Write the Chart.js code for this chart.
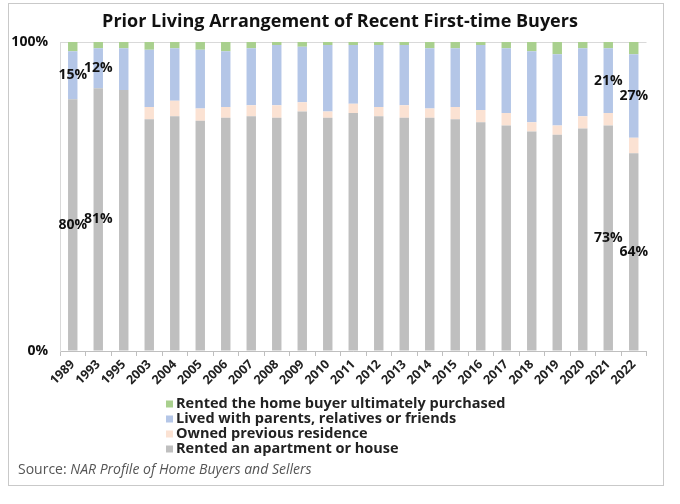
<!DOCTYPE html>
<html>
<head>
<meta charset="utf-8">
<script src="https://cdn.jsdelivr.net/npm/chart.js@4.4.1/dist/chart.umd.min.js"></script>
<style>
html,body{margin:0;padding:0;background:#fff;}
#wrap{width:680px;height:504px;position:relative;}
</style>
</head>
<body>
<div id="wrap"><canvas id="c" width="680" height="504"></canvas></div>
<script>
const years = ["1989","1993","1995","2003","2004","2005","2006","2007","2008","2009","2010","2011","2012","2013","2014","2015","2016","2017","2018","2019","2020","2021","2022"];
const rentedApartment = [81.5,85,84.5,75,76,74.5,75.5,76,75.5,77.5,75.5,77,76,75.5,75.5,75,74,73,71,70,72,73,64];
const ownedPrevious = [0,0,0,4,5,4,3.5,3.5,4,3,2,3,3,4,3,4,4,4,3,3,4,4,5];
const livedWithFamily = [15.5,13,13.5,18.5,17,19,18,18.5,19.5,18,21.5,19,20,19.5,19.5,19,21,21,23,23,22,21,27];
const rentedHomePurchased = [3,2,2,2.5,2,2.5,3,2,1,1.5,1,1,1,1,2,2,1,2,3,4,2,2,4];
const rentedApartmentLabels = ["80%","81%",null,null,null,null,null,null,null,null,null,null,null,null,null,null,null,null,null,null,null,"73%","64%"];
const livedWithFamilyLabels = ["15%","12%",null,null,null,null,null,null,null,null,null,null,null,null,null,null,null,null,null,null,null,"21%","27%"];
const yTicks = [0,100];

const FONT = "'Open Sans', 'DejaVu Sans', sans-serif";

const decorPlugin = {
  id: 'decor',
  beforeDraw(chart) {
    const ctx = chart.ctx;
    ctx.save();
    ctx.fillStyle = '#fff';
    ctx.fillRect(0,0,chart.width,chart.height);
    ctx.strokeStyle = '#c9c9c9';
    ctx.lineWidth = 1;
    ctx.strokeRect(8.5,3.5,655,482);
    ctx.restore();
  },
  afterDatasetsDraw(chart) {
    const ctx = chart.ctx;
    ctx.save();
    ctx.font = "bold 14px " + FONT;
    ctx.fillStyle = '#111';
    ctx.textAlign = 'center';
    ctx.textBaseline = 'middle';
    chart.data.datasets.forEach((ds, di) => {
      if (!ds.segLabels) return;
      const meta = chart.getDatasetMeta(di);
      ds.segLabels.forEach((t, i) => {
        if (!t) return;
        const el = meta.data[i];
        ctx.fillText(t, el.x, (el.y + el.base) / 2);
      });
    });
    ctx.restore();
  },
  afterDraw(chart) {
    const ctx = chart.ctx;
    ctx.save();
    ctx.font = "bold 18px " + FONT;
    ctx.fillStyle = '#111';
    ctx.textAlign = 'center';
    ctx.textBaseline = 'middle';
    ctx.fillText('Prior Living Arrangement of Recent First-time Buyers', 340, 22);
    const ds = chart.data.datasets.slice().reverse();
    ctx.textAlign = 'left';
    ctx.font = "bold 14.5px " + FONT;
    ds.forEach((d, i) => {
      const y = 404 + i * 15;
      ctx.fillStyle = d.backgroundColor;
      ctx.fillRect(166, y - 3.5, 7, 7);
      ctx.fillStyle = '#222';
      ctx.fillText(d.label, 176, y);
    });
    ctx.font = "14px " + FONT;
    ctx.fillStyle = '#555';
    const s1 = 'Source: ';
    ctx.fillText(s1, 18, 470);
    const w = ctx.measureText(s1).width;
    ctx.font = "italic 14px " + FONT;
    ctx.fillText('NAR Profile of Home Buyers and Sellers', 18 + w, 470);
    ctx.restore();
  }
};

new Chart(document.getElementById('c'), {
  type: 'bar',
  data: {
    labels: years,
    datasets: [
      {label:'Rented an apartment or house', data: rentedApartment, backgroundColor:'#bfbfbf', segLabels: rentedApartmentLabels},
      {label:'Owned previous residence', data: ownedPrevious, backgroundColor:'#fbe2d3'},
      {label:'Lived with parents, relatives or friends', data: livedWithFamily, backgroundColor:'#b4c6e7', segLabels: livedWithFamilyLabels},
      {label:'Rented the home buyer ultimately purchased', data: rentedHomePurchased, backgroundColor:'#a9d08e'}
    ]
  },
  options: {
    responsive: false,
    animation: false,
    devicePixelRatio: 1,
    datasets: { bar: { barPercentage: 0.37, categoryPercentage: 1.0, borderWidth: 0 } },
    layout: { padding: { left: 8, right: 33.5, top: 42, bottom: 108 } },
    plugins: { legend: { display: false }, title: { display: false }, tooltip: { enabled: false } },
    scales: {
      x: {
        stacked: true,
        afterFit(s) { s.height = 45; },
        grid: { display: true, drawOnChartArea: false, drawTicks: true, tickLength: 5, color: '#bfbfbf', offset: true },
        border: { display: true, color: '#bfbfbf' },
        ticks: { autoSkip: false, minRotation: 45, maxRotation: 45, color: '#222', padding: 1,
                 font: { family: FONT, size: 12.5, weight: 'bold' } }
      },
      y: {
        stacked: true,
        min: 0, max: 100,
        afterFit(s) { s.width = 52; },
        afterBuildTicks(s) { s.ticks = yTicks.map(v => ({ value: v })); },
        grid: { color: '#d9d9d9', drawTicks: false },
        border: { display: true, color: '#d9d9d9' },
        ticks: { padding: 12, color: '#111', callback: v => v + '%',
                 font: { family: FONT, size: 14, weight: 'bold' } }
      }
    }
  },
  plugins: [decorPlugin]
});
</script>
</body>
</html>
